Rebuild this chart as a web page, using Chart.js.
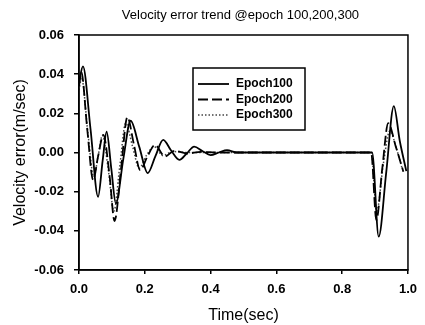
<!DOCTYPE html>
<html>
<head>
<meta charset="utf-8">
<script src="https://cdn.jsdelivr.net/npm/chart.js@4/dist/chart.umd.min.js"></script>
<style>
  body { margin: 0; background: #fff }
</style>
</head>
<body>
<canvas id="velocity-chart" width="425" height="325"></canvas>
<script>
const chartTitle = "Velocity error trend @epoch 100,200,300"
const seriesNames = ["Epoch100", "Epoch200", "Epoch300"]

// epoch 100 (solid)
const t100 = [0, 0.012, 0.035, 0.058, 0.072, 0.084, 0.098, 0.112, 0.135, 0.157, 0.183, 0.209, 0.232, 0.256, 0.28, 0.305, 0.328, 0.35, 0.375, 0.40, 0.425, 0.45, 0.48, 0.52, 0.891, 0.911, 0.934, 0.957, 0.975, 0.995]
const v100 = [0.036, 0.044, 0.012, -0.0226, -0.004, 0.0106, -0.008, -0.026, -0.003, 0.0162, 0.003, -0.0105, -0.002, 0.0064, 0.001, -0.0038, -0.0004, 0.003, 0.0008, -0.0013, 0, 0.0012, 0, 0, 0, -0.043, -0.01, 0.0237, 0.006, -0.0095]

// epoch 200 (dashed)
const t200 = [0, 0.007, 0.025, 0.043, 0.058, 0.074, 0.093, 0.108, 0.128, 0.147, 0.167, 0.186, 0.208, 0.231, 0.261, 0.29, 0.33, 0.37, 0.42, 0.5, 0.888, 0.904, 0.922, 0.94, 0.963, 0.986]
const v200 = [0.034, 0.041, 0.012, -0.014, -0.002, 0.009, -0.012, -0.035, -0.008, 0.018, 0.004, -0.009, -0.002, 0.0038, -0.002, 0.0008, -0.0005, 0.0003, 0, 0, 0, -0.0345, -0.008, 0.015, 0.003, -0.0098]

// epoch 300 (dotted)
const t300 = [0, 0.008, 0.027, 0.045, 0.058, 0.071, 0.09, 0.106, 0.124, 0.142, 0.163, 0.183, 0.205, 0.228, 0.255, 0.285, 0.33, 0.4, 0.5, 0.888, 0.905, 0.925, 0.945, 0.965, 0.982]
const v300 = [0.032, 0.038, 0.01, -0.0124, -0.002, 0.0087, -0.01, -0.03, -0.007, 0.015, 0.003, -0.008, -0.0015, 0.003, -0.0015, 0.0005, 0, 0, 0, 0, -0.03, -0.006, 0.011, 0.002, -0.008]

const ctx = document.getElementById("velocity-chart")
const fontFamily = "'Liberation Sans', Arial, sans-serif"

function toPoints(times, values) {
    return times.map((t, i) => ({ x: t, y: values[i] }))
}

// frame, title and boxed legend like the original figure
const decorations = {
    id: "decorations",
    afterDatasetsDraw(chart) {
        const c = chart.ctx
        const area = chart.chartArea
        c.save()
        c.strokeStyle = "#000"
        c.lineWidth = 1.5
        c.strokeRect(area.left, area.top, area.right - area.left, area.bottom - area.top)

        c.fillStyle = "#000"
        c.font = "13px " + fontFamily
        c.textAlign = "center"
        c.textBaseline = "middle"
        c.fillText(chartTitle, (area.left + area.right) / 2 - 3, 15)

        // legend box
        c.lineWidth = 1.5
        c.strokeRect(193, 68, 112, 62)
        c.textAlign = "left"
        c.font = "bold 12px " + fontFamily
        chart.data.datasets.forEach((ds, i) => {
            const y = 84 + i * 15.5
            c.beginPath()
            c.setLineDash(ds.borderDash || [])
            c.strokeStyle = ds.borderColor
            c.lineWidth = ds.borderWidth
            c.moveTo(198, y)
            c.lineTo(229, y)
            c.stroke()
            c.setLineDash([])
            c.fillText(ds.label, 236, y)
        })
        c.restore()
    }
}

new Chart(ctx, {
    type: "line",
    data: {
        datasets: [{
            label: seriesNames[0],
            data: toPoints(t100, v100),
            borderColor: "#000",
            borderWidth: 1.8
        }, {
            label: seriesNames[1],
            data: toPoints(t200, v200),
            borderColor: "#000",
            borderWidth: 1.8,
            borderDash: [10, 4]
        }, {
            label: seriesNames[2],
            data: toPoints(t300, v300),
            borderColor: "#444",
            borderWidth: 1.5,
            borderDash: [1.5, 2]
        }]
    },
    options: {
        responsive: false,
        animation: false,
        layout: { padding: { top: 35, right: 10 } },
        elements: {
            point: { radius: 0 },
            line: { cubicInterpolationMode: "monotone" }
        },
        plugins: {
            legend: { display: false },
            title: { display: false },
            tooltip: { enabled: false }
        },
        scales: {
            x: {
                type: "linear",
                min: 0,
                max: 1,
                afterFit: s => { s.height = 55 },
                ticks: {
                    stepSize: 0.2,
                    maxRotation: 0,
                    padding: 8,
                    color: "#000",
                    font: { family: fontFamily, size: 13, weight: "bold" },
                    callback: v => v.toFixed(1)
                },
                grid: { drawOnChartArea: false, tickLength: 4, color: "#000", lineWidth: 1.5 },
                border: { color: "#000", width: 1.5 },
                title: {
                    display: true,
                    text: "Time(sec)",
                    color: "#000",
                    padding: { top: 0, bottom: 0 },
                    font: { family: fontFamily, size: 16 }
                }
            },
            y: {
                min: -0.06,
                max: 0.06,
                afterFit: s => { s.width = 79 },
                ticks: {
                    stepSize: 0.02,
                    padding: 10,
                    color: "#000",
                    font: { family: fontFamily, size: 13, weight: "bold" },
                    callback: v => v.toFixed(2)
                },
                grid: { drawOnChartArea: false, tickLength: 5, color: "#000", lineWidth: 1.5 },
                border: { color: "#000", width: 1.5 },
                title: {
                    display: true,
                    text: "Velocity error(m/sec)",
                    color: "#000",
                    padding: { top: 11, bottom: 0 },
                    font: { family: fontFamily, size: 16 }
                }
            }
        }
    },
    plugins: [decorations]
})
</script>
</body>
</html>
